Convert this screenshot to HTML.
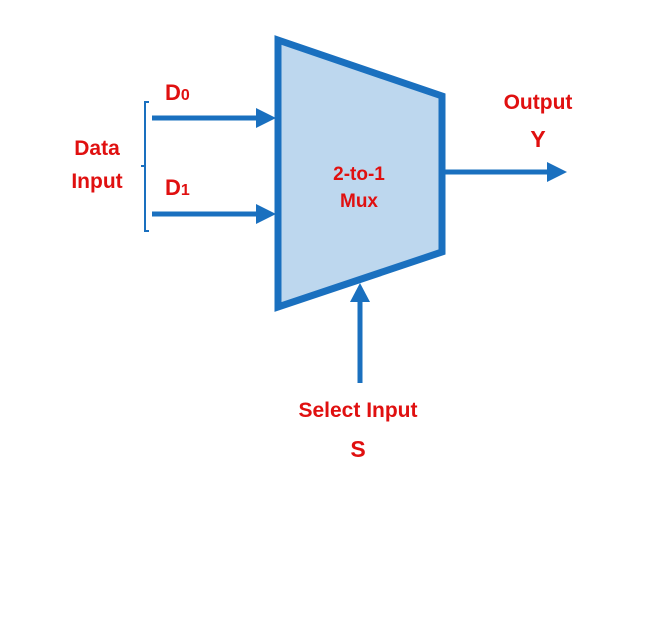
<!DOCTYPE html>
<html><head><style>body{margin:0;background:#fff}svg{display:block}text{font-family:"Liberation Sans",sans-serif;font-weight:bold;fill:#e01010}</style></head>
<body>
<svg width="661" height="621" viewBox="0 0 661 621">
<polygon points="278,40 442,96 442,252 278,307" fill="#bdd7ee" stroke="#1a70bf" stroke-width="7"/>
<g stroke="#1a70bf" stroke-width="5" fill="none">
<line x1="152" y1="118" x2="258" y2="118"/>
<line x1="152" y1="214" x2="258" y2="214"/>
<line x1="442" y1="172" x2="550" y2="172"/>
<line x1="360" y1="383" x2="360" y2="300"/>
</g>
<g fill="#1a70bf">
<polygon points="256,108 276,118 256,128"/>
<polygon points="256,204 276,214 256,224"/>
<polygon points="547,162 567,172 547,182"/>
<polygon points="350,302 360,283 370,302"/>
</g>
<path d="M149,102 H145 V231 H149 M145,166 H141" stroke="#1a70bf" stroke-width="2" fill="none"/>
<text x="165" y="100" font-size="22">D<tspan font-size="16">0</tspan></text>
<text x="165" y="195" font-size="22">D<tspan font-size="16">1</tspan></text>
<text x="97" y="155" font-size="21" text-anchor="middle">Data</text>
<text x="97" y="188" font-size="21" text-anchor="middle">Input</text>
<text x="359" y="180" font-size="19" text-anchor="middle">2-to-1</text>
<text x="359" y="207" font-size="19" text-anchor="middle">Mux</text>
<text x="538" y="109" font-size="21" text-anchor="middle">Output</text>
<text x="538" y="147" font-size="23" text-anchor="middle">Y</text>
<text x="358" y="417" font-size="21" text-anchor="middle">Select Input</text>
<text x="358" y="457" font-size="23" text-anchor="middle">S</text>
</svg>
</body></html>
